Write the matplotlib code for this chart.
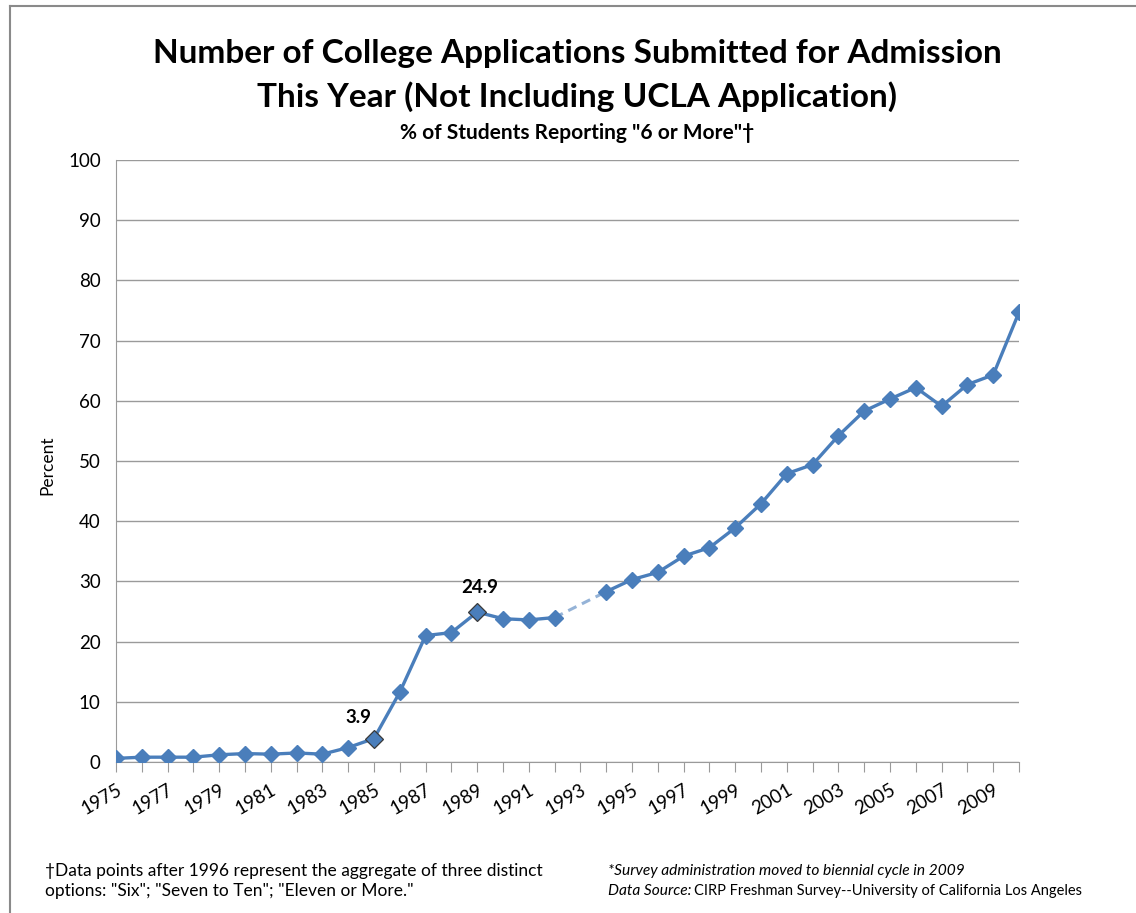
import matplotlib
matplotlib.use("Agg")
import matplotlib.pyplot as plt
from matplotlib.lines import Line2D
import numpy as np

years = list(range(1975, 2011))
values = [0.6, 0.8, 0.8, 0.8, 1.2, 1.4, 1.3, 1.5, 1.3, 2.4, 3.9, 11.6, 21.0, 21.5,
          24.9, 23.8, 23.6, 24.0, None, 28.3, 30.3, 31.5, 34.2, 35.6, 38.9, 42.9,
          47.9, 49.4, 54.2, 58.3, 60.3, 62.2, 59.1, 62.7, 64.3, 74.7]
highlight_years = [1985, 1989]
tick_years = list(range(1975, 2010, 2))
yticks = list(range(0, 101, 10))

title_1 = "Number of College Applications Submitted for Admission"
title_2 = "This Year (Not Including UCLA Application)"
subtitle = '% of Students Reporting "6 or More"\u2020'
foot_left = '\u2020Data points after 1996 represent the aggregate of three distinct\noptions: "Six"; "Seven to Ten"; "Eleven or More."'

plt.rcParams['font.family'] = ['Lato', 'DejaVu Sans']

W, H = 1136, 913
fig = plt.figure(figsize=(W / 100, H / 100), dpi=100)

def fx(x):
    return x / W

def fy(y):
    return 1 - y / H

ax = fig.add_axes([fx(116), fy(762), (1019 - 116) / W, (762 - 160) / H])

blue = '#4A7EBB'
light = '#95B3D7'
x = np.array(years, dtype=float)
y = np.array([np.nan if v is None else v for v in values], dtype=float)

gap_idx = [i for i, v in enumerate(values) if v is None]
for gi in gap_idx:
    ax.plot([x[gi - 1], x[gi + 1]], [y[gi - 1], y[gi + 1]], color=light, lw=2.2,
            ls=(0, (3, 2)), zorder=2)

ax.plot(x, y, color=blue, lw=2.4, marker='D', ms=8, mfc=blue, mec=blue, zorder=3)
for hy in highlight_years:
    i = years.index(hy)
    ax.plot([x[i]], [y[i]], marker='D', ms=9, mfc=blue, mec='#3a3a3a', mew=0.9,
            ls='none', zorder=4)

ax.annotate(f"{y[years.index(1985)]:.1f}", (1985, y[years.index(1985)]),
            xytext=(-11.5, 15), textcoords='offset points', ha='center', va='center',
            fontsize=13.5, fontweight='bold')
ax.annotate(f"{y[years.index(1989)]:.1f}", (1989, y[years.index(1989)]),
            xytext=(2, 18), textcoords='offset points', ha='center', va='center',
            fontsize=13.5, fontweight='bold')

ax.set_xlim(1975, 2010)
ax.set_ylim(0, 100)
ax.set_yticks(yticks)
ax.yaxis.grid(True, color='#9a9a9a', lw=1)
ax.set_axisbelow(True)
ax.set_xticks(years, minor=False)
ax.set_xticklabels([str(yr) if yr in tick_years else '' for yr in years],
                   rotation=30, ha='right', va='top', rotation_mode='anchor', fontsize=13.5)
ax.tick_params(axis='x', length=7, color='#9a9a9a', pad=7)
ax.tick_params(axis='y', length=0, labelsize=13.5, pad=11)
for s in ['top', 'right']:
    ax.spines[s].set_visible(False)
for s in ['left', 'bottom']:
    ax.spines[s].set_color('#9a9a9a')

fig.text(fx(47), fy(465), 'Percent', rotation=90, ha='center', va='center', fontsize=12.5)

fig.text(fx(577), fy(53), title_1, ha='center', va='center', fontsize=24, fontweight='bold')
fig.text(fx(577), fy(97), title_2, ha='center', va='center', fontsize=24, fontweight='bold')
fig.text(fx(577), fy(133), subtitle, ha='center', va='center', fontsize=15,
         fontweight='bold')

fig.text(fx(45), fy(881), foot_left, ha='left', va='center', fontsize=12.5,
         linespacing=1.3)
fig.text(fx(608), fy(871), '*Survey administration moved to biennial cycle in 2009',
         ha='left', va='center', fontsize=11.2, style='italic')
t1 = fig.text(fx(608), fy(891), 'Data Source:', ha='left', va='center',
              fontsize=11.2, style='italic')
fig.canvas.draw()
bb = t1.get_window_extent()
fig.text(bb.x1 / W + 3 / W, fy(891), 'CIRP Freshman Survey--University of California Los Angeles',
         ha='left', va='center', fontsize=10.5)

fig.add_artist(Line2D([fx(10), fx(10)], [fy(6), 0], color='#8a8a8a', lw=1.5))
fig.add_artist(Line2D([fx(10), 1], [fy(6), fy(6)], color='#8a8a8a', lw=1.5))

fig.savefig('out.png', dpi=100)
